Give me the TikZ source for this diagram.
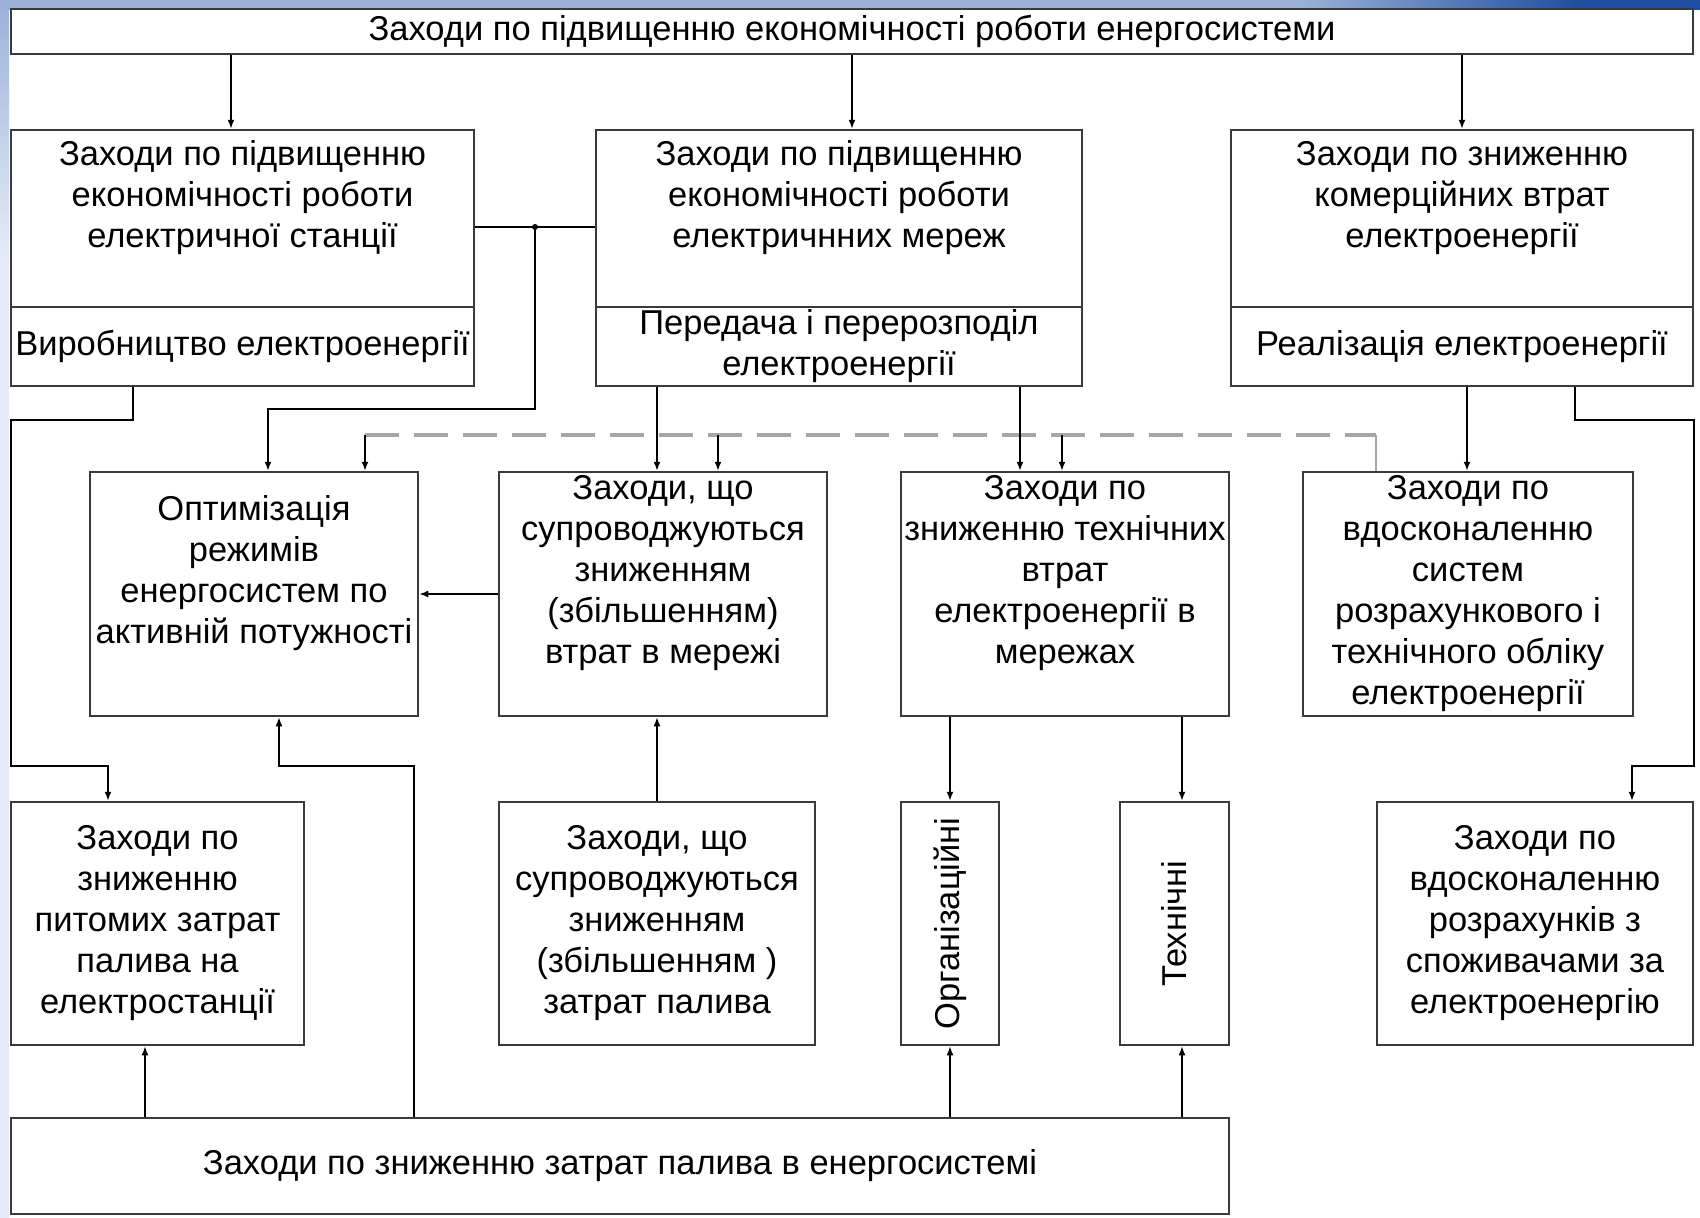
\documentclass[tikz,border=0pt]{standalone}
\usepackage{fontspec}
\usepackage{graphicx}
\setmainfont{Liberation Sans}
\usetikzlibrary{arrows.meta}
\definecolor{bandblue}{HTML}{9BB1D8}
\definecolor{deepblue}{HTML}{1F4E9F}
\definecolor{paleblue}{HTML}{E6ECF7}
\definecolor{boxgray}{HTML}{3A3A3A}
\tikzset{
	box/.style={draw=boxgray, line width=2.5pt, fill=white, inner sep=0pt,
		align=center, font=\fontsize{34.5}{41}\selectfont},
	lifted/.style={text depth=49pt},
	arr/.style={line width=1.5pt, -{Latex[length=9pt,width=7pt]}},
	link/.style={line width=1.5pt},
	dashline/.style={draw=gray!70, line width=4pt, dash pattern=on 34pt off 15pt},
}
\begin{document}
\begin{tikzpicture}[x=1pt, y=-1pt]
	%background
	\useasboundingbox (0,0) rectangle (1700,1218);
	\fill[white] (0,0) rectangle (1700,1218);
	\fill[paleblue] (0,0) rectangle (9,1218);
	\shade[top color=bandblue, bottom color=paleblue] (0,0) rectangle (9,260);
	\fill[bandblue] (0,0) rectangle (1300,10);
	\shade[left color=bandblue, right color=deepblue] (1300,0) rectangle (1580,10);
	\fill[deepblue] (1580,0) rectangle (1700,10);
	%rails
	\foreach \n/\x in {ra/231, rb/852, rc/1462, rj/535, ro/268, rq/365, rl/657,
		rm/718, rt/1020, ru/1062, rd/1376, re/1467, rs/133, rw/11, rf/108,
		rr/1575, rx/1694, rz/1632, rp/145, rk/414, rn/279, rg/950, rh/1182}
		\coordinate (\n) at (\x,0);
	\foreach \n/\y in {hl/227, hj/409, ha/420, hd/435, hr/766}
		\coordinate (\n) at (0,\y);
	%top
	\node[box, minimum width=1682, minimum height=45] (top) at (852,31.5)
		{Заходи по підвищенню економічності роботи енергосистеми};
	%first row
	\node[box, lifted, minimum width=463, minimum height=177] (stanc) at (242.5,218.5)
		{Заходи по підвищенню\\економічності роботи\\електричної станції};
	\node[box, minimum width=463, minimum height=79] (vyrob) at (242.5,346.5)
		{Виробництво електроенергії};
	\node[box, lifted, minimum width=486, minimum height=177] (merezh) at (839,218.5)
		{Заходи по підвищенню\\економічності роботи\\електричнних мереж};
	\node[box, minimum width=486, minimum height=79] (pered) at (839,346.5)
		{Передача і перерозподіл\\електроенергії};
	\node[box, lifted, minimum width=462, minimum height=177] (komerc) at (1462,218.5)
		{Заходи по зниженню\\комерційних втрат\\електроенергії};
	\node[box, minimum width=462, minimum height=79] (real) at (1462,346.5)
		{Реалізація електроенергії};
	%second row
	\node[box, lifted, minimum width=328, minimum height=244] (opt) at (254,594)
		{Оптимізація\\режимів\\енергосистем по\\активній потужності};
	\node[box, lifted, minimum width=328, minimum height=244] (vtr) at (663,594)
		{Заходи, що\\супроводжуються\\зниженням\\(збільшенням)\\втрат в мережі};
	\node[box, lifted, minimum width=328, minimum height=244] (tech) at (1065,594)
		{Заходи по\\зниженню технічних\\втрат\\електроенергії в\\мережах};
	\node[box, minimum width=330, minimum height=244] (vdosk) at (1468,594)
		{Заходи по\\вдосконаленню\\систем\\розрахункового і\\технічного обліку\\електроенергії};
	%third row
	\node[box, minimum width=293, minimum height=243] (palst) at (157.5,923.5)
		{Заходи по\\зниженню\\питомих затрат\\палива на\\електростанції};
	\node[box, minimum width=316, minimum height=243] (zatr) at (657,923.5)
		{Заходи, що\\супроводжуються\\зниженням\\(збільшенням )\\затрат палива};
	\node[box, minimum width=98, minimum height=243] (org) at (950,923.5)
		{\rotatebox{90}{Організаційні}};
	\node[box, minimum width=109, minimum height=243] (tehn) at (1174.5,923.5)
		{\rotatebox{90}{Технічні}};
	\node[box, minimum width=316, minimum height=243] (rozr) at (1535,923.5)
		{Заходи по\\вдосконаленню\\розрахунків з\\споживачами за\\електроенергію};
	%bottom
	\node[box, minimum width=1218, minimum height=96] (palyvo) at (620,1166)
		{Заходи по зниженню затрат палива в енергосистемі};
	%top arrows
	\draw[arr] (top.south -| ra) -- (stanc.north -| ra);
	\draw[arr] (top.south -| rb) -- (merezh.north -| rb);
	\draw[arr] (top.south -| rc) -- (komerc.north -| rc);
	%links between rows
	\draw[link] (stanc.east |- hl) -- (merezh.west |- hl);
	\fill (rj |- hl) circle (3);
	\draw[arr] (rj |- hl) -- (rj |- hj) -- (ro |- hj) -- (opt.north -| ro);
	\draw[arr] (vyrob.south -| rs) -- (rs |- ha) -- (rw |- ha) -- (rw |- hr)
		-- (rf |- hr) -- (palst.north -| rf);
	\draw[dashline] (rq |- hd) -- (rd |- hd);
	\draw[draw=gray!70, line width=2.5pt] (rd |- hd) -- (vdosk.north -| rd);
	\draw[arr] (rq |- hd) -- (opt.north -| rq);
	\draw[arr] (rm |- hd) -- (vtr.north -| rm);
	\draw[arr] (ru |- hd) -- (tech.north -| ru);
	\draw[arr] (pered.south -| rl) -- (vtr.north -| rl);
	\draw[arr] (pered.south -| rt) -- (tech.north -| rt);
	\draw[arr] (real.south -| re) -- (vdosk.north -| re);
	\draw[arr] (real.south -| rr) -- (rr |- ha) -- (rx |- ha) -- (rx |- hr)
		-- (rz |- hr) -- (rozr.north -| rz);
	\draw[arr] (vtr.west) -- (opt.east);
	%lower links
	\draw[arr] (tech.south -| rg) -- (org.north -| rg);
	\draw[arr] (tech.south -| rh) -- (tehn.north -| rh);
	\draw[arr] (zatr.north -| rl) -- (vtr.south -| rl);
	\draw[arr] (palyvo.north -| rp) -- (palst.south -| rp);
	\draw[arr] (palyvo.north -| rk) -- (rk |- hr) -- (rn |- hr) -- (opt.south -| rn);
	\draw[arr] (palyvo.north -| rg) -- (org.south -| rg);
	\draw[arr] (palyvo.north -| rh) -- (tehn.south -| rh);
\end{tikzpicture}
\end{document}
